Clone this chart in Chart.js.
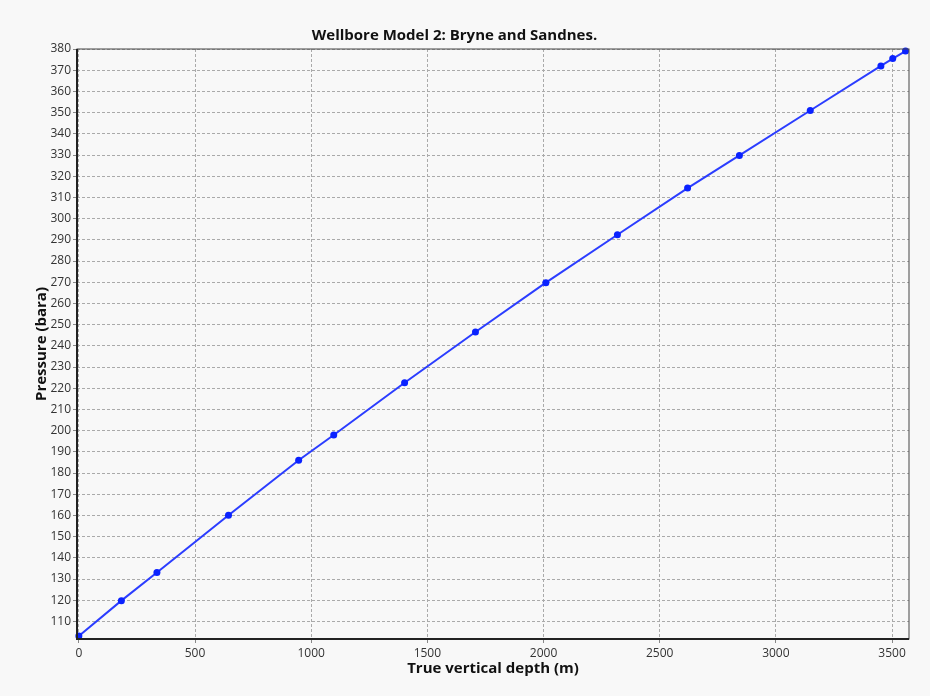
<!DOCTYPE html>
<html>
<head>
<meta charset="utf-8">
<script src="https://cdn.jsdelivr.net/npm/chart.js@4/dist/chart.umd.min.js"></script>
<style>
  html, body { margin: 0; padding: 0; background: #f8f8f8; }
  #wrap { width: 930px; height: 696px; }
</style>
</head>
<body>
<div id="wrap"><canvas id="wellChart" width="930" height="696"></canvas></div>
<script>
// Datos
const depths = [0, 183, 336, 644, 946, 1097, 1402, 1707, 2010, 2318, 2620, 2843, 3148, 3452, 3503, 3558];
const pressures = [103.1, 119.8, 133.1, 160.1, 186.0, 197.9, 222.6, 246.5, 269.8, 292.4, 314.4, 329.8, 351.0, 372.0, 375.5, 379.0];
const xTickStep = 500;
const yTickStep = 10;

const fontFamily = "'Open Sans', 'Noto Sans', sans-serif";

// Marco del área de trazado
const framePlugin = {
    id: 'frame',
    afterDraw(chart) {
        const { ctx, chartArea: a } = chart;
        ctx.save();
        ctx.strokeStyle = '#444';
        ctx.lineWidth = 1;
        ctx.strokeRect(a.left, a.top, a.right - a.left, a.bottom - a.top);
        ctx.strokeStyle = '#222';
        ctx.lineWidth = 2;
        ctx.beginPath();
        ctx.moveTo(a.left, a.top);
        ctx.lineTo(a.left, a.bottom);
        ctx.lineTo(a.right, a.bottom);
        ctx.stroke();
        ctx.restore();
    }
};

const ctx = document.getElementById('wellChart').getContext('2d');
new Chart(ctx, {
    type: 'line',
    data: {
        datasets: [{
            data: depths.map((d, i) => ({ x: d, y: pressures[i] })),
            borderColor: '#2b3dff',
            backgroundColor: '#0a22ff',
            borderWidth: 2,
            pointRadius: 3.5,
            pointBorderWidth: 0,
            tension: 0,
            clip: false
        }]
    },
    options: {
        responsive: false,
        animation: false,
        layout: { padding: { left: 0, right: 21, top: 0, bottom: 10 } },
        plugins: {
            legend: { display: false },
            tooltip: { enabled: false },
            title: {
                display: true,
                text: 'Wellbore Model 2: Bryne and Sandnes.',
                color: '#111',
                font: { family: fontFamily, size: 15, weight: 'bold', lineHeight: 1.2 },
                padding: { top: 27, bottom: 4 }
            }
        },
        scales: {
            x: {
                type: 'linear',
                min: -8,
                max: 3573,
                afterBuildTicks(scale) {
                    const t = [];
                    for (let v = 0; v <= scale.max; v += xTickStep) t.push({ value: v });
                    scale.ticks = t;
                },
                afterFit(scale) { scale.height = 47; },
                ticks: {
                    color: '#333', font: { family: fontFamily, size: 12 }, padding: 3, maxRotation: 0,
                    callback: v => String(v)
                },
                grid: { color: '#aaa', lineWidth: 1, tickLength: 4, tickColor: '#888', tickBorderDash: [] },
                border: { display: false, dash: [3, 2] },
                title: {
                    display: true,
                    text: 'True vertical depth (m)',
                    color: '#111',
                    font: { family: fontFamily, size: 15, weight: 'bold' },
                    padding: { top: 2, bottom: 8 }
                }
            },
            y: {
                type: 'linear',
                min: 101.7,
                max: 380,
                afterBuildTicks(scale) {
                    const t = [];
                    for (let v = 110; v <= scale.max; v += yTickStep) t.push({ value: v });
                    scale.ticks = t;
                },
                afterFit(scale) { scale.width = 77; },
                ticks: {
                    color: '#333', font: { family: fontFamily, size: 12 }, padding: 2,
                    callback: v => String(v)
                },
                grid: { color: '#aaa', lineWidth: 1, tickLength: 4, tickColor: '#888', tickBorderDash: [] },
                border: { display: false, dash: [3, 2] },
                title: {
                    display: true,
                    text: 'Pressure (bara)',
                    color: '#111',
                    font: { family: fontFamily, size: 15, weight: 'bold' },
                    padding: { top: 33, bottom: 4 }
                }
            }
        }
    },
    plugins: [framePlugin]
});
</script>
</body>
</html>
